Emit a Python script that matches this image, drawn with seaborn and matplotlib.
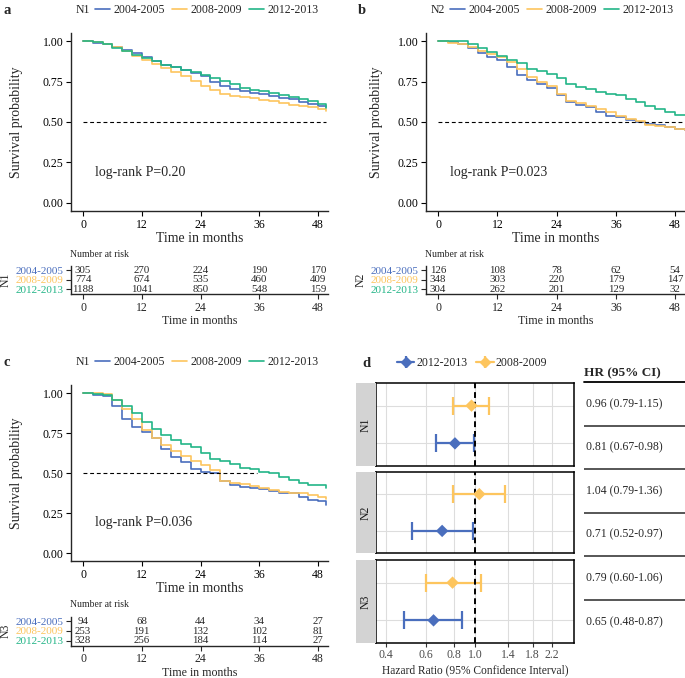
import pandas as pd
import seaborn as sns
import matplotlib.pyplot as plt
from matplotlib.lines import Line2D
from matplotlib.ticker import FormatStrFormatter, NullLocator, FixedLocator, FixedFormatter

periods = ["2004-2005", "2008-2009", "2012-2013"]
palette = ["#4A6EBD", "#FDC55E", "#23B587"]

# Kaplan-Meier curves (months, survival)
months = [0, 2, 4, 6, 8, 10, 12, 14, 16, 18, 20, 22, 24, 26, 28, 30, 32, 34, 36, 38, 40, 42, 44, 46, 48, 49.5]
months_b = [0, 2, 4, 6, 8, 10, 12, 14, 16, 18, 20, 22, 24, 26, 28, 30, 32, 34, 36, 38, 40, 42, 44, 46, 48, 50]

surv_a_0405 = [1.0, .99, .985, .965, .945, .925, .9, .875, .855, .84, .82, .80, .785, .745, .725, .705, .69, .68, .67, .66, .65, .64, .625, .61, .60, .59]
surv_a_0809 = [1.0, .995, .985, .965, .94, .91, .885, .86, .835, .81, .785, .755, .725, .70, .675, .662, .655, .648, .638, .628, .618, .608, .598, .59, .578, .57]
surv_a_1213 = [1.0, .995, .98, .96, .94, .915, .895, .875, .855, .838, .822, .808, .79, .77, .752, .735, .71, .70, .69, .678, .667, .655, .645, .63, .61, .585]

surv_b_0405 = [1.0, .995, .985, .96, .925, .9, .885, .84, .79, .76, .735, .71, .665, .625, .605, .595, .56, .535, .53, .51, .50, .49, .48, .47, .455, .45]
surv_b_0809 = [1.0, .99, .98, .965, .94, .92, .9, .87, .83, .78, .75, .72, .675, .63, .615, .60, .58, .56, .54, .52, .505, .48, .475, .47, .455, .45]
surv_b_1213 = [1.0, 1.0, 1.0, .98, .955, .93, .91, .885, .865, .83, .815, .795, .77, .735, .715, .705, .685, .675, .665, .64, .625, .60, .58, .56, .545, .545]

surv_c_0405 = [1.0, .99, .985, .92, .84, .79, .76, .72, .65, .60, .57, .53, .51, .50, .45, .425, .415, .41, .40, .39, .38, .375, .35, .335, .325, .30]
surv_c_0809 = [1.0, 1.0, .995, .96, .90, .84, .77, .72, .675, .64, .61, .58, .555, .52, .455, .44, .432, .42, .41, .395, .385, .38, .375, .365, .355, .34]
surv_c_1213 = [1.0, .995, .99, .96, .92, .88, .82, .78, .74, .71, .685, .665, .625, .59, .575, .56, .535, .53, .51, .50, .48, .46, .44, .43, .425, .41]

# numbers at risk
risk_times = [0, 12, 24, 36, 48]
risk_a = [[305, 270, 224, 190, 170], [774, 674, 535, 460, 409], [1188, 1041, 850, 548, 159]]
risk_b = [[126, 108, 78, 62, 54], [348, 303, 220, 179, 147], [304, 262, 201, 129, 32]]
risk_c = [[94, 68, 44, 34, 27], [253, 191, 132, 102, 81], [328, 256, 184, 114, 27]]

# hazard ratios vs 2004-2005
stages = ["N1", "N2", "N3"]
hr_0809 = [0.96, 1.04, 0.79]
lo_0809 = [0.79, 0.79, 0.60]
hi_0809 = [1.15, 1.36, 1.06]
hr_1213 = [0.81, 0.71, 0.65]
lo_1213 = [0.67, 0.52, 0.48]
hi_1213 = [0.98, 0.97, 0.87]
hr_ticks = [0.4, 0.6, 0.8, 1.0, 1.4, 1.8, 2.2]
hr_tick_labels = ["0.4", "0.6", "0.8", "1.0", "1.4", "1.8", "2.2"]

W, H = 685, 678


def box(x0, y0, x1, y1):
    # pixel box (top-left origin) -> figure fraction rect
    return [x0 / W, 1 - y1 / H, (x1 - x0) / W, (y1 - y0) / H]


sns.set_style("ticks")
plt.rcParams["font.family"] = ["Liberation Serif", "DejaVu Serif"]
plt.rcParams["axes.linewidth"] = 1.0

fig = plt.figure(figsize=(W / 100, H / 100), dpi=100)


def km_panel(main_box, risk_box, t, curves, risk, stage, legend_stage, pval, median_end,
             letter, top_y, ylab_x, risk_lab_x):
    ax = fig.add_axes(box(*main_box))
    df = pd.concat([pd.DataFrame({"time": t, "surv": s, "period": p}) for p, s in zip(periods, curves)])
    sns.lineplot(data=df, x="time", y="surv", hue="period", hue_order=periods, palette=palette,
                 estimator=None, drawstyle="steps-post", linewidth=1.2, ax=ax)
    ax.hlines(0.5, 0, median_end, color="black", linestyle=(0, (3.5, 2.5)), linewidth=0.8)
    ax.text(2.4, 0.19, f"log-rank P={pval}", fontsize=10, va="center")
    ax.set_xlim(-2.45, 50)
    ax.set_ylim(-0.05, 1.05)
    ax.set_xticks(risk_times)
    ax.set_yticks([0, 0.25, 0.5, 0.75, 1.0])
    ax.yaxis.set_major_formatter(FormatStrFormatter("%.2f"))
    ax.tick_params(labelsize=8.5, length=3.5, width=0.8, pad=2, colors="black")
    ax.set_xlabel("Time in months", fontsize=10, labelpad=1)
    ax.set_ylabel("Survival probability", fontsize=10)
    ax.yaxis.set_label_coords(ylab_x, 0.5)
    sns.despine(ax=ax)
    x0 = main_box[0]
    sns.move_legend(ax, "center left", bbox_to_anchor=((x0 + 24) / W, 1 - top_y / H),
                    bbox_transform=fig.transFigure, ncol=3, title=None, frameon=False,
                    fontsize=8.5, handlelength=1.3, handletextpad=0.3, columnspacing=0.55,
                    borderpad=0, borderaxespad=0)
    fig.text((x0 + 5) / W, 1 - top_y / H, legend_stage, fontsize=8.5, va="center")
    fig.text((x0 - 68) / W, 1 - top_y / H, letter, fontsize=10.5, fontweight="bold", va="center")

    rt = fig.add_axes(box(*risk_box))
    for i, counts in enumerate(risk):
        for tt, n in zip(risk_times, counts):
            rt.text(tt, 3 - i, str(n), ha="center", va="center", fontsize=7.8)
    rt.set_xlim(-2.45, 50)
    rt.set_ylim(0.5, 3.5)
    rt.set_yticks([3, 2, 1])
    rt.set_yticklabels(periods)
    for lbl, c in zip(rt.get_yticklabels(), palette):
        lbl.set_color(c)
    rt.set_xticks(risk_times)
    rt.tick_params(axis="y", labelsize=8, length=3.5, width=0.8, pad=2)
    rt.tick_params(axis="x", labelsize=8.5, length=3.5, width=0.8, pad=2)
    rt.set_xlabel("Time in months", fontsize=8.6, labelpad=1)
    rt.set_ylabel(stage, fontsize=8.5)
    rt.yaxis.set_label_coords(risk_lab_x, 0.5)
    rt.text(-0.005, 1.4, "Number at risk", transform=rt.transAxes, fontsize=7, va="center")
    sns.despine(ax=rt)


km_panel((71, 33, 328, 211), (71, 265.5, 328, 294), months,
         [surv_a_0405, surv_a_0809, surv_a_1213], risk_a, "N1", "N1", "0.20", 49.5,
         "a", 10, -0.186, -0.23)
km_panel((426, 33, 685, 211), (426, 265.5, 685, 294), months_b,
         [surv_b_0405, surv_b_0809, surv_b_1213], risk_b, "N2", "N2", "0.023", 50,
         "b", 10, -0.166, -0.228)
km_panel((71, 385.3, 328, 561.3), (71, 616.5, 328, 645.5), months,
         [surv_c_0405, surv_c_0809, surv_c_1213], risk_c, "N3", "N1", "0.036", 35.5,
         "c", 362, -0.186, -0.23)

# forest plot (panel d)
forest_colors = {"2012-2013": palette[0], "2008-2009": palette[1]}
facet_rows = [(383, 466), (472, 553), (560, 643)]
for k, (stage, (y0, y1)) in enumerate(zip(stages, facet_rows)):
    ax = fig.add_axes(box(376, y0, 574, y1))
    fd = pd.DataFrame({"period": ["2008-2009", "2012-2013"],
                       "hr": [hr_0809[k], hr_1213[k]],
                       "lo": [lo_0809[k], lo_1213[k]],
                       "hi": [hi_0809[k], hi_1213[k]],
                       "row": [2, 1]})
    ax.set_xscale("log")
    for _, r in fd.iterrows():
        ax.errorbar(r["hr"], r["row"], xerr=[[r["hr"] - r["lo"]], [r["hi"] - r["hr"]]], fmt="none",
                    ecolor=forest_colors[r["period"]], elinewidth=1.6, capsize=6.8, capthick=1.6, zorder=2)
    sns.scatterplot(data=fd, x="hr", y="row", hue="period", palette=forest_colors, marker="D",
                    s=40, linewidth=0, legend=False, ax=ax, zorder=4)
    ax.axvline(1.0, color="black", linestyle=(0, (3, 2)), linewidth=1.4, zorder=3)
    ax.set_xlim(0.36, 2.75)
    ax.set_ylim(0.4, 2.6)
    ax.xaxis.set_major_locator(FixedLocator(hr_ticks))
    ax.xaxis.set_major_formatter(FixedFormatter(hr_tick_labels))
    ax.xaxis.set_minor_locator(NullLocator())
    ax.set_yticks([1, 2])
    ax.set_yticklabels([])
    ax.grid(True, color="#DDDDDD", linewidth=0.8)
    ax.set_axisbelow(True)
    ax.set_xlabel("")
    ax.set_ylabel("")
    for sp in ax.spines.values():
        sp.set_visible(True)
        sp.set_color("black")
        sp.set_linewidth(1.1)
    ax.tick_params(axis="y", length=0)
    if k < 2:
        ax.tick_params(axis="x", length=0, labelbottom=False)
    else:
        ax.tick_params(axis="x", length=3, color="#333333", labelsize=8.5, labelcolor="#4D4D4D", pad=1.5)
        ax.set_xlabel("Hazard Ratio (95% Confidence Interval)", fontsize=8.3, labelpad=2)

    st = fig.add_axes(box(356, y0, 376, y1))
    st.set_facecolor("#D3D3D3")
    st.set_xticks([])
    st.set_yticks([])
    for sp in st.spines.values():
        sp.set_visible(False)
    st.text(0.5, 0.5, stage, rotation=90, ha="center", va="center", transform=st.transAxes,
            fontsize=8.5, color="#1A1A1A")

handles = [(Line2D([], [], color=forest_colors[p], lw=1.6, marker="|", ms=9, mew=1.6),
            Line2D([], [], color=forest_colors[p], marker="D", ms=5, ls="none"))
           for p in ["2012-2013", "2008-2009"]]
fig.legend(handles, ["2012-2013", "2008-2009"], loc="center left", bbox_to_anchor=(397 / W, 1 - 363 / H),
           ncol=2, frameon=False, fontsize=8.5, handlelength=1.45, handletextpad=0.2,
           columnspacing=0.75, borderpad=0, borderaxespad=0)
fig.text(362 / W, 1 - 363 / H, "d", fontsize=10.5, fontweight="bold", va="center")

# HR table to the right of the forest plot
fig.text(584 / W, 1 - 373 / H, "HR (95% CI)", fontsize=9.5, fontweight="bold", va="center")
tab = fig.add_axes(box(584, 382, 685, 643.6))
tab.set_axis_off()
tab.set_xlim(0, 1)
tab.set_ylim(6, 0)
tab.axhline(0, color="black", lw=1.3, clip_on=False)
for y in range(1, 6):
    tab.axhline(y, color="#3A3A3A", lw=1.2)
rows = []
for k in range(3):
    rows.append((hr_0809[k], lo_0809[k], hi_0809[k]))
    rows.append((hr_1213[k], lo_1213[k], hi_1213[k]))
for i, (h, lo, hi) in enumerate(rows):
    tab.text(0.02, i + 0.5, f"{h:.2f} ({lo:.2f}-{hi:.2f})", fontsize=8.5, va="center")

fig.savefig("out.png", dpi=100)
